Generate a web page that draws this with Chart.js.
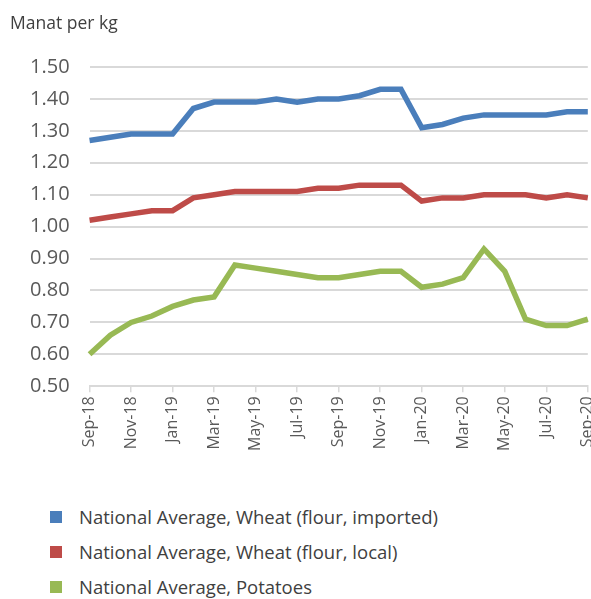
<!DOCTYPE html>
<html>
<head>
<meta charset="utf-8">
<script src="https://cdn.jsdelivr.net/npm/chart.js@4"></script>
<style>
  body { margin: 0; background: #fff; overflow: hidden; font-family: "Open Sans", sans-serif; }
  #wrap { position: relative; width: 611px; height: 455px; }
  #legend { position: absolute; left: 50px; top: 499px; }
  .item { display: flex; align-items: center; height: 35px; font-size: 18.5px; color: #404040; }
  .box { width: 12px; height: 12px; margin-right: 17px; }
</style>
</head>
<body>
<div id="wrap"><canvas id="priceChart"></canvas></div>
<div id="legend"></div>
<script>
const months = ['Sep-18', 'Oct-18', 'Nov-18', 'Dec-18', 'Jan-19', 'Feb-19', 'Mar-19', 'Apr-19', 'May-19',
    'Jun-19', 'Jul-19', 'Aug-19', 'Sep-19', 'Oct-19', 'Nov-19', 'Dec-19', 'Jan-20', 'Feb-20', 'Mar-20',
    'Apr-20', 'May-20', 'Jun-20', 'Jul-20', 'Aug-20', 'Sep-20'];

const wheatImported = [1.27, 1.28, 1.29, 1.29, 1.29, 1.37, 1.39, 1.39, 1.39, 1.40, 1.39, 1.40, 1.40,
    1.41, 1.43, 1.43, 1.31, 1.32, 1.34, 1.35, 1.35, 1.35, 1.35, 1.36, 1.36];
const wheatLocal = [1.02, 1.03, 1.04, 1.05, 1.05, 1.09, 1.10, 1.11, 1.11, 1.11, 1.11, 1.12, 1.12,
    1.13, 1.13, 1.13, 1.08, 1.09, 1.09, 1.10, 1.10, 1.10, 1.09, 1.10, 1.09];
const potatoes = [0.60, 0.66, 0.70, 0.72, 0.75, 0.77, 0.78, 0.88, 0.87, 0.86, 0.85, 0.84, 0.84,
    0.85, 0.86, 0.86, 0.81, 0.82, 0.84, 0.93, 0.86, 0.71, 0.69, 0.69, 0.71];

const seriesNames = ['National Average, Wheat (flour, imported)', 'National Average, Wheat (flour, local)', 'National Average, Potatoes'];
const seriesColors = ['#4a7ebb', '#be4b48', '#98b954'];

const axisColor = '#595959';
const gridColor = '#d9d9d9';

const datasets = [wheatImported, wheatLocal, potatoes].map((values, i) => ({
    label: seriesNames[i],
    data: values,
    borderColor: seriesColors[i],
    backgroundColor: seriesColors[i],
    borderWidth: 5.5,
    pointRadius: 0,
    tension: 0,
    fill: false
}));

const ctx = document.getElementById('priceChart').getContext('2d');
const chart = new Chart(ctx, {
    type: 'line',
    data: { labels: months, datasets: datasets },
    options: {
        responsive: true,
        maintainAspectRatio: false,
        animation: false,
        layout: { padding: { left: 10, right: 0, top: 14, bottom: 0 } },
        plugins: {
            legend: { display: false },
            tooltip: { enabled: false },
            title: {
                display: true,
                text: 'Manat per kg',
                align: 'start',
                color: '#404040',
                font: { family: 'Open Sans', size: 17.5, weight: 'normal' },
                padding: { top: 0, bottom: 32 }
            }
        },
        scales: {
            x: {
                offset: false,
                grid: { drawOnChartArea: false, color: gridColor, lineWidth: 1.5, tickLength: 6 },
                border: { color: gridColor, width: 2 },
                ticks: {
                    autoSkip: false,
                    maxRotation: 90,
                    minRotation: 90,
                    padding: 4,
                    color: axisColor,
                    font: { family: 'Open Sans', size: 16 },
                    callback: function (value, index) {
                        return index % 2 === 0 ? this.getLabelForValue(value) : null;
                    }
                }
            },
            y: {
                min: 0.5,
                max: 1.5,
                grid: { color: gridColor, lineWidth: 2, drawTicks: false },
                border: { display: false },
                ticks: {
                    stepSize: 0.1,
                    padding: 20,
                    color: axisColor,
                    font: { family: 'Open Sans', size: 20 },
                    callback: value => value.toFixed(2)
                }
            }
        }
    }
});

const legend = document.getElementById('legend');
chart.data.datasets.forEach(ds => {
    const item = document.createElement('div');
    item.className = 'item';
    item.innerHTML = '<span class="box" style="background:' + ds.borderColor + '"></span>' + ds.label;
    legend.appendChild(item);
});
</script>
</body>
</html>
